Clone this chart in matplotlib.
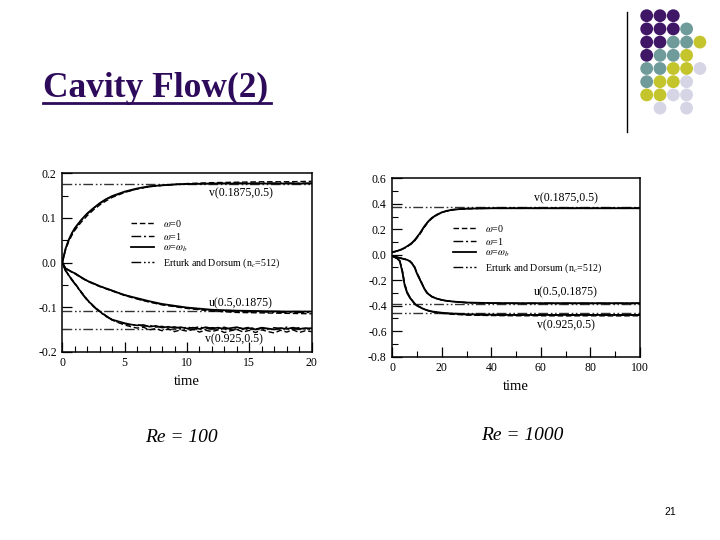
import matplotlib
matplotlib.use("Agg")
import matplotlib.pyplot as plt
from matplotlib.ticker import MultipleLocator, FormatStrFormatter
from matplotlib.lines import Line2D

plt.rcParams['font.family'] = ['Liberation Serif', 'DejaVu Serif']
plt.rcParams['mathtext.fontset'] = 'stix'
plt.rcParams['axes.unicode_minus'] = False

# ---------------- data : Re = 100 ----------------
t_100 = [0, 0.25, 0.5, 0.75, 1, 1.5, 2, 2.5, 3, 3.5, 4, 5, 6, 7, 8, 9, 10, 12, 14, 16, 18, 20]
v1875_100_wb = [0, 0.030, 0.050, 0.065, 0.077, 0.095, 0.110, 0.122, 0.133, 0.142, 0.149, 0.159, 0.166, 0.171, 0.173, 0.175, 0.176, 0.177, 0.177, 0.177, 0.177, 0.177]
v1875_100_w0 = [0, 0.027, 0.046, 0.060, 0.072, 0.090, 0.105, 0.118, 0.129, 0.138, 0.146, 0.157, 0.165, 0.170, 0.173, 0.175, 0.177, 0.179, 0.180, 0.181, 0.181, 0.182]
v1875_100_w1 = [0, 0.029, 0.049, 0.064, 0.076, 0.094, 0.109, 0.121, 0.132, 0.141, 0.148, 0.158, 0.165, 0.170, 0.173, 0.175, 0.176, 0.177, 0.178, 0.178, 0.178, 0.178]
u_100_wb = [0, -0.013, -0.017, -0.021, -0.024, -0.033, -0.041, -0.047, -0.053, -0.058, -0.063, -0.073, -0.080, -0.087, -0.093, -0.097, -0.101, -0.106, -0.108, -0.109, -0.110, -0.110]
u_100_w0 = [0, -0.013, -0.017, -0.021, -0.025, -0.034, -0.042, -0.048, -0.054, -0.059, -0.064, -0.074, -0.082, -0.089, -0.095, -0.099, -0.103, -0.109, -0.112, -0.113, -0.114, -0.115]
u_100_w1 = [0, -0.013, -0.017, -0.021, -0.024, -0.033, -0.041, -0.047, -0.053, -0.058, -0.063, -0.073, -0.081, -0.088, -0.094, -0.098, -0.102, -0.107, -0.110, -0.111, -0.112, -0.112]

t_fine_100 = [0, 0.25, 0.5, 0.75, 1, 1.5, 2, 2.5, 3, 3.5,
              4.0, 4.5, 5.0, 5.5, 6.0, 6.5, 7.0, 7.5, 8.0, 8.5, 9.0, 9.5, 10.0, 10.5, 11.0, 11.5,
              12.0, 12.5, 13.0, 13.5, 14.0, 14.5, 15.0, 15.5, 16.0, 16.5, 17.0, 17.5, 18.0, 18.5,
              19.0, 19.5, 20.0]
v925_100_wb = [0, -0.018, -0.028, -0.038, -0.047, -0.066, -0.084, -0.098, -0.110, -0.120,
               -0.128, -0.132, -0.136, -0.139, -0.141, -0.140, -0.144, -0.142, -0.146, -0.144, -0.147,
               -0.145, -0.148, -0.146, -0.149, -0.145, -0.148, -0.146, -0.149, -0.147, -0.145, -0.149,
               -0.147, -0.150, -0.146, -0.148, -0.150, -0.147, -0.149, -0.146, -0.149, -0.147, -0.148]
v925_100_w0 = [0, -0.017, -0.027, -0.037, -0.046, -0.065, -0.083, -0.097, -0.109, -0.119,
               -0.129, -0.135, -0.140, -0.144, -0.147, -0.145, -0.151, -0.148, -0.153, -0.149, -0.155,
               -0.151, -0.154, -0.150, -0.156, -0.152, -0.155, -0.151, -0.157, -0.153, -0.150, -0.156,
               -0.152, -0.157, -0.151, -0.155, -0.158, -0.152, -0.156, -0.151, -0.157, -0.153, -0.155]
v925_100_w1 = [0, -0.018, -0.029, -0.039, -0.048, -0.067, -0.085, -0.099, -0.111, -0.121,
               -0.129, -0.134, -0.137, -0.141, -0.139, -0.143, -0.141, -0.145, -0.143, -0.147, -0.144,
               -0.148, -0.145, -0.147, -0.144, -0.149, -0.146, -0.148, -0.145, -0.150, -0.146, -0.148,
               -0.145, -0.149, -0.147, -0.150, -0.146, -0.148, -0.145, -0.149, -0.146, -0.150, -0.147]
ref_100 = [0.176, -0.108, -0.148]

# ---------------- data : Re = 1000 ----------------
t_1000 = [0, 2, 3, 4, 5, 6, 7, 8, 9, 10, 11, 12, 13, 14, 15, 16, 18, 20, 22, 25, 30, 40, 50, 60, 70, 80, 90, 100]
v1875_1000_wb = [0.020, 0.030, 0.037, 0.045, 0.055, 0.067, 0.080, 0.095, 0.115, 0.140, 0.165, 0.195, 0.225, 0.250, 0.272, 0.290, 0.315, 0.333, 0.345, 0.355, 0.362, 0.365, 0.365, 0.365, 0.365, 0.365, 0.365, 0.365]
v1875_1000_w0 = [0.020, 0.029, 0.035, 0.043, 0.052, 0.063, 0.076, 0.090, 0.108, 0.132, 0.157, 0.187, 0.217, 0.243, 0.266, 0.285, 0.311, 0.330, 0.343, 0.354, 0.361, 0.366, 0.367, 0.367, 0.367, 0.367, 0.367, 0.367]
v1875_1000_w1 = [0.020, 0.030, 0.036, 0.044, 0.054, 0.065, 0.078, 0.093, 0.112, 0.137, 0.162, 0.192, 0.222, 0.248, 0.270, 0.288, 0.314, 0.332, 0.344, 0.355, 0.362, 0.364, 0.364, 0.364, 0.364, 0.364, 0.364, 0.364]
u_1000_wb = [-0.010, -0.020, -0.025, -0.030, -0.035, -0.040, -0.050, -0.070, -0.100, -0.150, -0.190, -0.230, -0.270, -0.300, -0.315, -0.330, -0.345, -0.355, -0.362, -0.368, -0.375, -0.379, -0.380, -0.380, -0.380, -0.380, -0.380, -0.380]
u_1000_w0 = [-0.010, -0.020, -0.025, -0.030, -0.034, -0.039, -0.048, -0.066, -0.094, -0.142, -0.183, -0.224, -0.264, -0.295, -0.312, -0.327, -0.343, -0.354, -0.361, -0.368, -0.376, -0.381, -0.383, -0.383, -0.383, -0.383, -0.383, -0.383]
u_1000_w1 = [-0.010, -0.020, -0.025, -0.030, -0.035, -0.040, -0.049, -0.068, -0.097, -0.146, -0.187, -0.227, -0.267, -0.298, -0.314, -0.329, -0.344, -0.355, -0.362, -0.368, -0.376, -0.380, -0.381, -0.381, -0.381, -0.381, -0.381, -0.381]
v925_1000_wb = [-0.010, -0.030, -0.050, -0.130, -0.240, -0.300, -0.335, -0.360, -0.385, -0.400, -0.410, -0.420, -0.428, -0.435, -0.440, -0.445, -0.450, -0.455, -0.458, -0.462, -0.467, -0.470, -0.472, -0.472, -0.472, -0.472, -0.472, -0.472]
v925_1000_w0 = [-0.010, -0.028, -0.045, -0.115, -0.225, -0.290, -0.328, -0.355, -0.380, -0.397, -0.408, -0.419, -0.428, -0.436, -0.442, -0.448, -0.455, -0.460, -0.464, -0.468, -0.473, -0.477, -0.479, -0.479, -0.480, -0.479, -0.480, -0.479]
v925_1000_w1 = [-0.010, -0.029, -0.048, -0.125, -0.235, -0.297, -0.333, -0.358, -0.383, -0.399, -0.409, -0.420, -0.428, -0.435, -0.441, -0.446, -0.452, -0.457, -0.461, -0.465, -0.470, -0.474, -0.475, -0.475, -0.475, -0.475, -0.475, -0.475]
ref_1000 = [0.372, -0.387, -0.460]

curve_labels = ['v(0.1875,0.5)', 'u(0.5,0.1875)', 'v(0.925,0.5)']
legend_labels = [r'$\omega$=0', r'$\omega$=1', r'$\omega$=$\omega_b$', r'Erturk and Dorsum (n$_c$=512)']

# decorative dot grid (P purple, T teal, Y yellow, L lavender)
dot_rows = ['PPP', 'PPPT', 'PPTTY', 'PTTY', 'TTYYL', 'TYYL', 'YYLL', ' L L']
dot_colors = {'P': '#3F1766', 'T': '#6F9B9B', 'Y': '#C4C42C', 'L': '#D5D5E6'}

LS_W0 = (0, (4, 2))
LS_W1 = (0, (7, 2, 1.5, 2))
LS_REF = (0, (7, 2, 1.2, 1.8, 1.2, 1.8))

fig = plt.figure(figsize=(7.2, 5.4), dpi=100)

# background / decoration axes in pixel coordinates
bg = fig.add_axes([0, 0, 1, 1])
bg.set_xlim(0, 720)
bg.set_ylim(540, 0)
bg.axis('off')
bg.plot([627, 627], [12, 132], color='black', lw=1.0)
for r, row in enumerate(dot_rows):
    for c, ch in enumerate(row):
        if ch == ' ':
            continue
        bg.scatter(646.7 + 13.3 * c, 15.7 + 13.2 * r, s=85, color=dot_colors[ch], edgecolors='none')
bg.text(43, 97, 'Cavity Flow(2)', fontsize=25.5, fontweight='bold', color='#2E0B5A',
        ha='left', va='baseline', family=['Liberation Serif'])
bg.plot([43, 271], [102.5, 102.5], color='#2E0B5A', lw=2)
bg.text(181, 437, 'Re = 100', fontsize=14, style='italic', ha='center', va='center')
bg.text(522, 435, 'Re = 1000', fontsize=14, style='italic', ha='center', va='center')
bg.text(670, 512, '21', fontsize=7.5, ha='center', va='center', family=['Liberation Sans'])


def style_axes(ax, xmaj, xmin, ymaj, ymin):
    ax.xaxis.set_major_locator(MultipleLocator(xmaj))
    ax.xaxis.set_minor_locator(MultipleLocator(xmin))
    ax.yaxis.set_major_locator(MultipleLocator(ymaj))
    ax.yaxis.set_minor_locator(MultipleLocator(ymin))
    ax.yaxis.set_major_formatter(FormatStrFormatter('%.1f'))
    ax.tick_params(which='major', direction='in', length=7, width=0.9, labelsize=8.5,
                   top=False, right=False, pad=4)
    ax.tick_params(which='minor', direction='in', length=4, width=0.8, top=False, right=False)
    for s in ax.spines.values():
        s.set_linewidth(1.1)
    ax.set_xlabel('time', fontsize=10.5, labelpad=4)


def add_legend(ax, anchor):
    handles = [Line2D([], [], color='black', lw=1.0, ls=LS_W0),
               Line2D([], [], color='black', lw=1.0, ls=LS_W1),
               Line2D([], [], color='black', lw=1.3, ls='-'),
               Line2D([], [], color='black', lw=1.0, ls=LS_REF)]
    ax.legend(handles, legend_labels, loc='upper left', bbox_to_anchor=anchor, frameon=False,
              fontsize=7.2, handlelength=2.3, handletextpad=0.9, labelspacing=0.2)


# ---------- Re = 100 panel ----------
ax1 = fig.add_axes([62.3 / 720, 1 - 351.7 / 540, 249.4 / 720, 178.4 / 540])
ax1.set_xlim(0, 20)
ax1.set_ylim(-0.2, 0.2)
for ref in ref_100:
    ax1.axhline(ref, color='#333333', lw=1.0, ls=LS_REF)
ax1.plot(t_100, v1875_100_w0, color='black', lw=1.0, ls=LS_W0)
ax1.plot(t_100, v1875_100_w1, color='black', lw=1.0, ls=LS_W1)
ax1.plot(t_100, v1875_100_wb, color='black', lw=1.3)
ax1.plot(t_100, u_100_w0, color='black', lw=1.0, ls=LS_W0)
ax1.plot(t_100, u_100_w1, color='black', lw=1.0, ls=LS_W1)
ax1.plot(t_100, u_100_wb, color='black', lw=1.3)
ax1.plot(t_fine_100, v925_100_w0, color='black', lw=1.0, ls=LS_W0)
ax1.plot(t_fine_100, v925_100_w1, color='black', lw=1.0, ls=LS_W1)
ax1.plot(t_fine_100, v925_100_wb, color='black', lw=1.2)
ax1.text(14.3, 0.155, curve_labels[0], fontsize=8.5, ha='center', va='center')
ax1.text(14.3, -0.092, curve_labels[1], fontsize=8.5, ha='center', va='center')
ax1.text(13.8, -0.172, curve_labels[2], fontsize=8.5, ha='center', va='center')
style_axes(ax1, 5, 1, 0.1, 0.05)
add_legend(ax1, (0.24, 0.8))

# ---------- Re = 1000 panel ----------
ax2 = fig.add_axes([392.3 / 720, 1 - 356.7 / 540, 247.7 / 720, 178.4 / 540])
ax2.set_xlim(0, 100)
ax2.set_ylim(-0.8, 0.6)
for ref in ref_1000:
    ax2.axhline(ref, color='#333333', lw=1.0, ls=LS_REF)
ax2.plot(t_1000, v1875_1000_w0, color='black', lw=1.0, ls=LS_W0)
ax2.plot(t_1000, v1875_1000_w1, color='black', lw=1.0, ls=LS_W1)
ax2.plot(t_1000, v1875_1000_wb, color='black', lw=1.3)
ax2.plot(t_1000, u_1000_w0, color='black', lw=1.0, ls=LS_W0)
ax2.plot(t_1000, u_1000_w1, color='black', lw=1.0, ls=LS_W1)
ax2.plot(t_1000, u_1000_wb, color='black', lw=1.3)
ax2.plot(t_1000, v925_1000_w0, color='black', lw=1.0, ls=LS_W0)
ax2.plot(t_1000, v925_1000_w1, color='black', lw=1.0, ls=LS_W1)
ax2.plot(t_1000, v925_1000_wb, color='black', lw=1.3)
ax2.text(70, 0.445, curve_labels[0], fontsize=8.5, ha='center', va='center')
ax2.text(70, -0.295, curve_labels[1], fontsize=8.5, ha='center', va='center')
ax2.text(70, -0.555, curve_labels[2], fontsize=8.5, ha='center', va='center')
style_axes(ax2, 20, 10, 0.2, 0.1)
add_legend(ax2, (0.21, 0.8))

fig.savefig('out.png', dpi=100)
